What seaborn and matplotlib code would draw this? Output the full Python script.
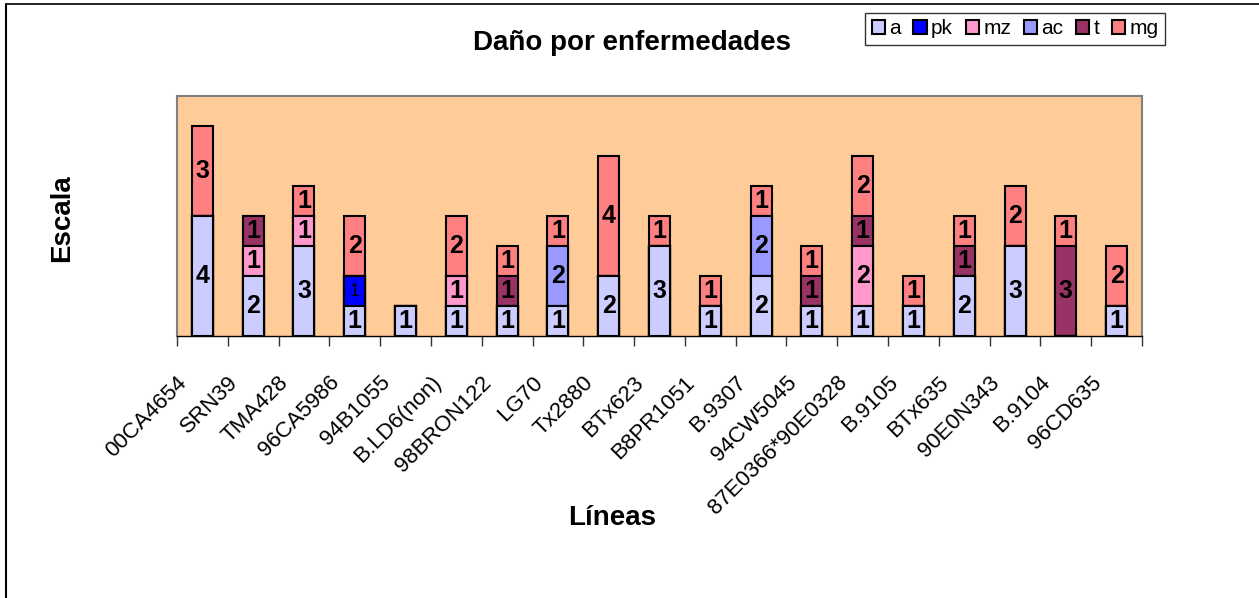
import numpy as np
import pandas as pd
import matplotlib
matplotlib.use("Agg")
import matplotlib.pyplot as plt
import matplotlib.transforms as mtransforms
from matplotlib.patches import Patch
from matplotlib.lines import Line2D
import seaborn as sns

# Lines evaluated and disease damage scores per disease
lineas = ["00CA4654", "SRN39", "TMA428", "96CA5986", "94B1055", "B.LD6(non)",
          "98BRON122", "LG70", "Tx2880", "BTx623", "B8PR1051", "B.9307",
          "94CW5045", "87E0366*90E0328", "B.9105", "BTx635", "90E0N343",
          "B.9104", "96CD635"]
a  = [4, 2, 3, 1, 1, 1, 1, 1, 2, 3, 1, 2, 1, 1, 1, 2, 3, 0, 1]
pk = [0, 0, 0, 1, 0, 0, 0, 0, 0, 0, 0, 0, 0, 0, 0, 0, 0, 0, 0]
mz = [0, 1, 1, 0, 0, 1, 0, 0, 0, 0, 0, 0, 0, 2, 0, 0, 0, 0, 0]
ac = [0, 0, 0, 0, 0, 0, 0, 2, 0, 0, 0, 2, 0, 0, 0, 0, 0, 0, 0]
t  = [0, 1, 0, 0, 0, 0, 1, 0, 0, 0, 0, 0, 1, 1, 0, 1, 0, 3, 0]
mg = [3, 0, 1, 2, 0, 2, 1, 1, 4, 1, 1, 1, 1, 2, 1, 1, 2, 1, 2]

series_names = ["a", "pk", "mz", "ac", "t", "mg"]
series_vals = [a, pk, mz, ac, t, mg]
series_colors = ["#CCCCFF", "#0000FF", "#FF99CC", "#9999FF", "#993366", "#FF8080"]

sns.set_style("white")
plt.rcParams["font.family"] = ["Liberation Sans", "DejaVu Sans"]
plt.rcParams["text.color"] = "black"
plt.rcParams["xtick.color"] = "black"
plt.rcParams["xtick.labelcolor"] = "black"

W, H = 1259, 598
fig = plt.figure(figsize=(W / 100, H / 100), dpi=100)
ax = fig.add_axes([177 / W, 1 - 336 / H, (1142 - 177) / W, (336 - 96) / H])
ax.set_facecolor("#FFCC99")

vals = np.array(series_vals, dtype=float)
cum = np.cumsum(vals, axis=0)
df = pd.DataFrame({"linea": lineas})

# stacked bars: draw cumulative totals from the top layer down
for k in range(len(series_names) - 1, -1, -1):
    df["h"] = cum[k]
    sns.barplot(data=df, x="linea", y="h", order=lineas, color=series_colors[k],
                saturation=1, width=0.414, edgecolor="black", linewidth=1.5,
                errorbar=None, ax=ax)

# segment value labels
for k, name in enumerate(series_names):
    bottoms = cum[k] - vals[k]
    for i, v in enumerate(vals[k]):
        if v > 0:
            if name == "pk":
                ax.text(i, bottoms[i] + v / 2, f"{int(v)}", ha="center", va="center",
                        fontsize=13, color="black")
            else:
                ax.text(i, bottoms[i] + v / 2, f"{int(v)}", ha="center", va="center",
                        fontsize=18, fontweight="bold", color="black")

ax.set_xlim(-0.5, len(lineas) - 0.5)
ax.set_ylim(0, 8)
ax.set_xlabel("")
ax.set_ylabel("")
ax.set_yticks([])

ax.set_xticks(np.arange(len(lineas)))
ax.set_xticklabels(lineas, fontsize=16, color="black")
ax.set_xticks(np.arange(len(lineas) + 1) - 0.5, minor=True)
ax.tick_params(axis="x", which="major", length=0, pad=0)
ax.tick_params(axis="x", which="minor", length=7, width=1, color="#333333",
               direction="out", bottom=True)
offset = mtransforms.ScaledTranslation(-26 / 100, -36 / 100, fig.dpi_scale_trans)
for lab in ax.get_xticklabels():
    lab.set_rotation(45)
    lab.set_ha("right")
    lab.set_va("top")
    lab.set_rotation_mode("anchor")
    lab.set_transform(lab.get_transform() + offset)

for side in ["top", "right", "left"]:
    ax.spines[side].set_color("#808080")
    ax.spines[side].set_linewidth(1.5)
ax.spines["bottom"].set_color("black")
ax.spines["bottom"].set_linewidth(1)

fig.text(632 / W, 1 - 43 / H, "Daño por enfermedades", ha="center", va="center",
         fontsize=20, fontweight="bold", color="black")
fig.text(62 / W, 1 - 218 / H, "Escala", ha="center", va="center", rotation=90,
         fontsize=20, fontweight="bold", color="black")
fig.text(612 / W, 1 - 518 / H, "Líneas", ha="center", va="center",
         fontsize=20, fontweight="bold", color="black")

handles = [Patch(facecolor=c, edgecolor="black", linewidth=1.5) for c in series_colors]
leg = fig.legend(handles, series_names, loc="upper right",
                 bbox_to_anchor=(1165 / W, 1 - 13 / H), ncol=6, fontsize=15,
                 frameon=True, fancybox=False, edgecolor="black",
                 handlelength=0.65, handleheight=0.65, handletextpad=0.2,
                 columnspacing=0.6, borderpad=0.3, borderaxespad=0)
leg.get_frame().set_linewidth(1)
for txt in leg.get_texts():
    txt.set_color("black")

# chart frame edges
fig.add_artist(Line2D([6 / W, 6 / W], [0, 1 - 4 / H], transform=fig.transFigure,
                      color="black", lw=1.5))
fig.add_artist(Line2D([6 / W, 1], [1 - 4 / H, 1 - 4 / H], transform=fig.transFigure,
                      color="black", lw=1.2))

fig.savefig("out.png", dpi=100)
